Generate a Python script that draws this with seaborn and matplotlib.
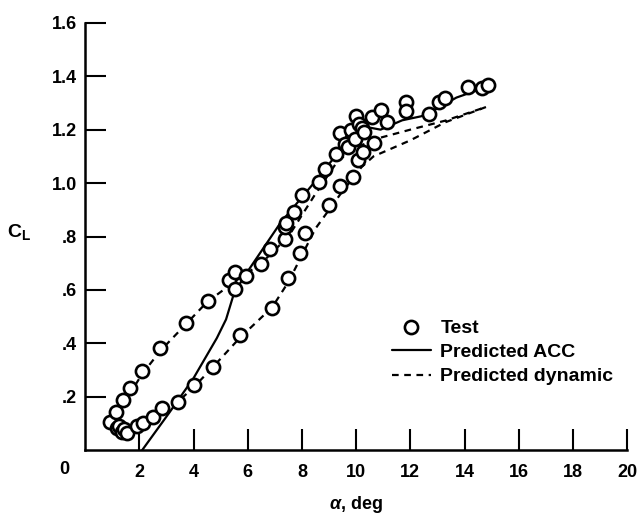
import matplotlib
matplotlib.use('Agg')
import matplotlib.pyplot as plt
import seaborn as sns

# Test points (angle of attack, lift coefficient)
test_alpha = [0.92, 1.13, 1.41, 1.66, 2.09, 2.77, 3.72, 4.52, 5.32, 5.53, 5.53, 5.94,
              6.50, 6.83, 7.38, 7.38, 7.42, 7.71, 8.00, 8.64, 8.86, 9.24, 9.41, 9.59,
              9.70, 9.80, 9.95, 10.00, 10.10, 10.20, 10.30, 10.58, 10.90, 11.13, 11.85,
              11.85, 12.67, 13.05, 13.28, 14.14, 14.64, 14.85,
              1.17, 1.25, 1.35, 1.45, 1.54, 1.90, 2.15, 2.52, 2.83, 3.44, 4.00, 4.73,
              5.72, 6.89, 7.50, 7.93, 8.12, 9.01, 9.41, 9.90, 10.08, 10.27, 10.64]
test_cl = [0.105, 0.145, 0.190, 0.233, 0.295, 0.382, 0.476, 0.560, 0.637, 0.667, 0.603, 0.652,
           0.697, 0.752, 0.790, 0.836, 0.850, 0.891, 0.955, 1.004, 1.053, 1.110, 1.186, 1.148,
           1.135, 1.200, 1.165, 1.252, 1.222, 1.205, 1.190, 1.248, 1.272, 1.230, 1.302,
           1.268, 1.260, 1.302, 1.320, 1.360, 1.357, 1.367,
           0.082, 0.090, 0.070, 0.080, 0.066, 0.090, 0.101, 0.126, 0.158, 0.182, 0.245, 0.313,
           0.432, 0.531, 0.643, 0.737, 0.812, 0.918, 0.990, 1.024, 1.087, 1.117, 1.149]

# Predicted ACC (solid)
acc_alpha = [2.1, 3.1, 4.0, 4.86, 5.2, 5.5, 6.0, 6.7, 7.2, 7.9, 8.6, 9.3, 9.7, 10.1,
             10.9, 11.7, 12.4, 13.0, 13.7, 14.4, 14.8]
acc_cl = [0.0, 0.14, 0.27, 0.42, 0.49, 0.59, 0.67, 0.775, 0.85, 0.935, 1.02, 1.11, 1.18, 1.215,
          1.20, 1.235, 1.25, 1.28, 1.32, 1.345, 1.36]

# Predicted dynamic (dashed loop, up then back down)
dyn_alpha = [0.9, 1.4, 2.1, 2.8, 3.7, 4.5, 5.5, 6.5, 7.5, 8.5, 9.3, 9.9, 10.9, 12.0, 13.3, 14.8,
             13.3, 12.0, 10.64, 10.2, 9.5, 8.5, 7.5, 6.9, 5.7, 4.7, 4.0, 3.4, 2.8, 2.2, 1.6, 1.2, 0.9]
dyn_cl = [0.09, 0.17, 0.285, 0.375, 0.47, 0.555, 0.63, 0.70, 0.80, 0.96, 1.08, 1.13, 1.17, 1.20, 1.234, 1.285,
          1.228, 1.16, 1.10, 1.06, 0.97, 0.83, 0.63, 0.535, 0.42, 0.31, 0.235, 0.18, 0.145, 0.105, 0.075, 0.075, 0.09]

x_ticks = [2, 4, 6, 8, 10, 12, 14, 16, 18, 20]
y_ticks = [0.2, 0.4, 0.6, 0.8, 1.0, 1.2, 1.4, 1.6]
y_tick_labels = ['.2', '.4', '.6', '.8', '1.0', '1.2', '1.4', '1.6']

sns.set_style('ticks')
plt.rcParams['font.family'] = ['Liberation Sans', 'DejaVu Sans']
plt.rcParams['font.weight'] = 'bold'
plt.rcParams['text.color'] = 'black'
plt.rcParams['axes.edgecolor'] = 'black'
plt.rcParams['axes.labelcolor'] = 'black'
plt.rcParams['xtick.color'] = 'black'
plt.rcParams['ytick.color'] = 'black'
plt.rcParams['mathtext.fontset'] = 'custom'
plt.rcParams['mathtext.rm'] = 'Liberation Sans'
plt.rcParams['mathtext.bf'] = 'Liberation Sans:bold'
plt.rcParams['mathtext.it'] = 'Liberation Sans:italic'

fig = plt.figure(figsize=(6.4, 5.17), dpi=100)
ax = fig.add_axes([0.133, 0.129, 0.847, 0.827])

sns.lineplot(x=acc_alpha, y=acc_cl, sort=False, estimator=None, color='black',
             linewidth=1.6, label='Predicted ACC', ax=ax)
sns.lineplot(x=dyn_alpha, y=dyn_cl, sort=False, estimator=None, color='black',
             linewidth=1.6, linestyle=(0, (3, 2.5)), label='Predicted dynamic', ax=ax)
sns.scatterplot(x=test_alpha, y=test_cl, marker='o', s=90, color='white',
                edgecolor='black', linewidth=1.9, zorder=3, label='Test', ax=ax)

ax.set_xlim(0, 20)
ax.set_ylim(0, 1.6)
ax.set_xticks(x_ticks)
ax.set_xticklabels([str(t) for t in x_ticks])
ax.set_yticks(y_ticks)
ax.set_yticklabels(y_tick_labels)
ax.tick_params(direction='in', length=15, width=1.5, labelsize=13)
ax.tick_params(axis='x', pad=10)
ax.tick_params(axis='y', pad=6)
for lab in ax.get_xticklabels() + ax.get_yticklabels():
    lab.set_fontweight('bold')
sns.despine(ax=ax)
for side in ['left', 'bottom']:
    ax.spines[side].set_linewidth(1.8)

ax.set_xlabel(r'$\alpha$, deg', fontsize=13, fontweight='bold', va='center')
ax.xaxis.set_label_coords(0.5, -0.127)
ax.set_ylabel(r'$\mathbf{C}_\mathbf{L}$', fontsize=14, rotation=0, ha='center', va='center')
ax.yaxis.set_label_coords(-0.122, 0.51)
fig.text(64 / 640, 1 - 469 / 517, '0', ha='center', va='center', fontsize=13, fontweight='bold')

handles, labels = ax.get_legend_handles_labels()
order = [labels.index(l) for l in ['Test', 'Predicted ACC', 'Predicted dynamic']]
ax.legend([handles[i] for i in order], [labels[i] for i in order],
          loc='upper left', bbox_to_anchor=(0.612, 0.383), bbox_transform=fig.transFigure,
          frameon=False, prop={'size': 14, 'weight': 'bold'}, handlelength=2.0,
          handletextpad=0.5, labelspacing=0.35, borderpad=0, borderaxespad=0)

plt.savefig('out.png', dpi=100)
plt.close()
